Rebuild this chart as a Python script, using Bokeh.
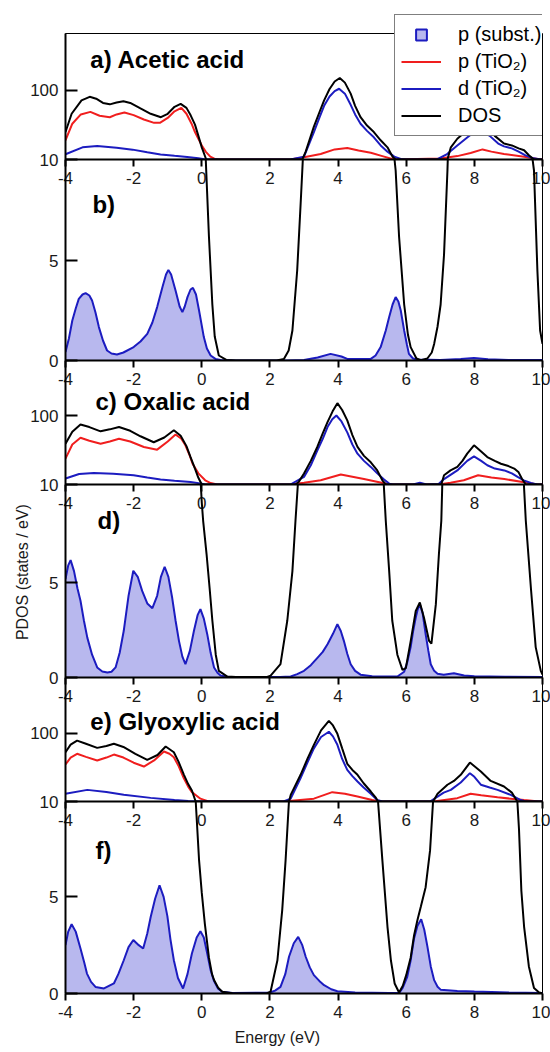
import numpy as np
from bokeh.plotting import figure
from bokeh.layouts import column
from bokeh.models import FixedTicker, PrintfTickFormatter, Legend, LegendItem, Label
from bokeh.embed import file_html
from bokeh.resources import INLINE

# ---------------- data (energy eV, value) ----------------
X_TICKS = [-4, -2, 0, 2, 4, 6, 8, 10]
LOG_TICKS = [10, 100]
LIN_TICKS = [0, 5]

# Acetic acid
ac_dos = [(-4.0,25),(-3.82,46),(-3.53,72),(-3.29,81),(-3.1,76),(-2.9,66),(-2.7,63),(-2.5,67),(-2.3,70),(-2.1,66),
          (-1.8,55),(-1.5,46),(-1.2,41),(-1.0,46),(-0.8,58),(-0.62,64),(-0.45,56),(-0.33,44),(-0.2,32),(-0.1,22),
          (0.0,15),(0.13,9.5),(0.21,6.2),(0.31,2.8),(0.38,1.2),(0.5,0.25),(0.72,0.03),(1.0,0.0),(2.2,0.0),(2.41,0.08),
          (2.55,0.5),(2.66,1.5),(2.8,4.5),(2.9,7.8),(2.95,9.5),(3.05,13),(3.29,30),(3.45,48),(3.59,72),(3.75,105),
          (3.9,135),(4.05,152),(4.2,130),(4.37,90),(4.5,60),(4.66,41),(4.85,31),(5.05,25),(5.25,19),(5.45,15),
          (5.6,11),(5.69,9.5),(5.79,6.2),(5.94,2.8),(6.05,1.3),(6.13,0.67),(6.3,0.1),(6.43,0.02),(6.62,0.1),(6.75,0.4),
          (6.82,0.83),(6.92,1.7),(7.01,2.8),(7.11,5.3),(7.21,9.5),(7.31,15),(7.5,20),(7.8,27),(8.0,33),(8.2,36),
          (8.4,30),(8.6,22),(8.87,17),(9.1,16),(9.3,14.5),(9.46,13.6),(9.6,11.5),(9.75,9.5),(9.85,4.5),(9.93,1.5),(10.0,0.83)]
ac_p_tio2 = [(-4.0,19),(-3.8,33),(-3.55,45),(-3.27,49),(-3.0,43),(-2.7,41),(-2.5,45),(-2.27,48),(-2.0,44),(-1.7,38),
             (-1.4,34),(-1.23,34),(-1.0,40),(-0.8,50),(-0.6,56),(-0.45,46),(-0.3,33),(-0.2,25),(-0.1,20),(0.0,16),
             (0.12,12.9),(0.25,11),(0.37,10.3),(0.5,10),(2.6,10),(3.0,10.8),(3.49,12),(3.9,14),(4.27,14.7),(4.6,13.5),
             (4.96,12.5),(5.3,11.2),(5.64,10),(7.0,10.3),(7.5,11.2),(7.89,12.4),(8.24,14),(8.5,13),(8.87,12),(9.46,11),
             (9.95,10),(10.0,10)]
ac_d_tio2 = [(-4.0,11.9),(-3.5,15),(-3.07,15.7),(-2.5,14.8),(-2.03,13.9),(-1.6,12.7),(-1.21,11.8),(-0.8,11.3),(-0.43,10.9),
             (-0.1,10.4),(0.12,10),(2.6,10),(3.0,11),(3.29,25),(3.45,40),(3.59,60),(3.75,82),(3.9,98),(4.03,106),(4.2,90),
             (4.37,62),(4.5,45),(4.66,33),(4.85,26),(5.05,21),(5.25,16),(5.45,13),(5.65,11),(5.84,10.2),(6.0,10),(6.9,10),
             (7.2,12),(7.5,16),(7.8,21),(8.0,25),(8.2,27),(8.45,22),(8.7,17),(8.87,15.5),(9.1,14.5),(9.3,13),(9.5,11.5),
             (9.7,10.5),(9.95,10),(10.0,10)]
ac_p_sub = [(-4.0,0.42),(-3.9,1.1),(-3.8,2.0),(-3.7,2.6),(-3.61,3.08),(-3.5,3.3),(-3.41,3.37),(-3.3,3.25),(-3.22,3.0),
            (-3.12,2.4),(-3.02,1.67),(-2.9,1.0),(-2.78,0.5),(-2.65,0.35),(-2.49,0.3),(-2.3,0.4),(-2.0,0.67),(-1.8,0.95),
            (-1.6,1.33),(-1.45,1.9),(-1.31,2.67),(-1.15,3.7),(-1.05,4.3),(-0.98,4.53),(-0.9,4.3),(-0.77,3.5),(-0.65,2.7),
            (-0.57,2.42),(-0.5,2.7),(-0.42,3.17),(-0.33,3.55),(-0.26,3.63),(-0.17,3.3),(-0.08,2.5),(0.06,1.17),(0.15,0.6),
            (0.26,0.25),(0.4,0.08),(0.55,0.03),(1.0,0.0),(2.5,0.0),(3.0,0.03),(3.4,0.15),(3.78,0.33),(4.1,0.2),(4.27,0.08),
            (4.96,0.08),(5.1,0.25),(5.25,0.67),(5.4,1.5),(5.5,2.17),(5.6,2.8),(5.69,3.17),(5.77,2.95),(5.84,2.5),(5.94,1.5),
            (6.02,0.8),(6.08,0.33),(6.2,0.1),(6.33,0.05),(7.0,0.03),(7.6,0.08),(7.99,0.12),(8.4,0.06),(9.0,0.02),(10.0,0.02)]

# Oxalic acid
ox_dos = [(-4.0,39),(-3.8,58),(-3.56,74),(-3.3,68),(-2.97,59),(-2.7,63),(-2.43,68),(-2.1,60),(-1.8,50),(-1.41,41),
          (-1.1,48),(-0.82,61),(-0.62,51),(-0.45,36),(-0.33,25),(-0.2,17),(-0.1,12.5),(0.0,9.2),(0.04,8.25),(0.14,6.5),
          (0.23,4.7),(0.31,3.0),(0.41,1.2),(0.5,0.35),(0.75,0.05),(1.0,0.02),(1.9,0.02),(2.02,0.1),(2.31,0.7),(2.51,3.0),
          (2.66,5.6),(2.75,8.25),(2.85,11),(3.0,14.4),(3.2,22),(3.39,35),(3.55,55),(3.69,80),(3.84,115),(3.98,151),
          (4.12,120),(4.27,85),(4.42,52),(4.57,35),(4.76,26),(4.96,21),(5.15,16),(5.3,11.5),(5.4,8.25),(5.5,5.6),
          (5.59,3.0),(5.74,1.2),(5.89,0.4),(5.99,0.5),(6.13,1.9),(6.28,3.5),(6.4,3.95),(6.52,3.16),(6.67,1.93),(6.74,1.78),
          (6.87,3.86),(6.96,6.5),(7.03,8.25),(7.11,13.6),(7.3,16),(7.5,18),(7.65,22),(7.79,28),(7.99,37),(8.2,30),
          (8.38,25),(8.6,22),(8.78,20),(9.0,18.5),(9.17,17),(9.3,15),(9.4,12),(9.51,8.25),(9.66,4.7),(9.8,1.6),
          (9.95,0.35),(10.0,0.15)]
ox_p_tio2 = [(-4.0,23.7),(-3.8,38),(-3.56,47.6),(-3.3,43),(-2.97,39),(-2.7,42),(-2.43,46),(-2.1,42),(-1.7,35),(-1.31,32),
             (-1.0,42),(-0.77,53),(-0.6,46),(-0.48,37),(-0.35,26),(-0.27,20),(-0.1,14.5),(0.1,11.5),(0.26,10.5),(0.45,10),
             (2.6,10),(3.0,10.6),(3.49,11.5),(4.08,14),(4.76,12),(5.45,10.2),(5.6,10),(6.95,10),(7.3,10.6),(7.69,11.5),
             (8.11,13.6),(8.5,12.6),(8.88,12),(9.46,10.8),(9.85,10),(10.0,10)]
ox_d_tio2 = [(-4.0,12.2),(-3.6,14.2),(-3.17,14.7),(-2.6,14.3),(-2.0,13.6),(-1.6,12.6),(-1.21,11.8),(-0.8,11.3),(-0.33,10.9),
             (0.0,10.3),(0.1,10),(2.6,10),(3.0,12.9),(3.2,19),(3.39,31),(3.55,46),(3.69,68),(3.83,88),(3.95,100),(4.1,82),
             (4.27,57),(4.42,38),(4.57,28),(4.76,22),(4.96,18),(5.15,14.5),(5.35,11.8),(5.5,10.3),(5.6,10),(6.2,10),
             (6.4,10.6),(6.6,10),(6.95,10.2),(7.11,12),(7.3,13.8),(7.5,16),(7.79,22),(7.99,25.6),(8.2,22),(8.38,19),
             (8.6,17),(8.88,16),(9.1,14.5),(9.27,12.9),(9.45,11.5),(9.66,10.5),(9.85,10),(10.0,10)]
ox_p_sub = [(-4.0,5.18),(-3.92,5.9),(-3.85,6.18),(-3.75,5.6),(-3.65,4.7),(-3.56,4.04),(-3.46,3.0),(-3.36,2.1),(-3.22,1.2),
            (-3.07,0.53),(-2.92,0.32),(-2.77,0.26),(-2.65,0.3),(-2.53,0.53),(-2.41,1.3),(-2.29,2.46),(-2.15,4.3),(-2.01,5.62),
            (-1.88,5.3),(-1.75,4.56),(-1.6,3.9),(-1.45,3.65),(-1.31,4.3),(-1.2,5.3),(-1.09,5.83),(-0.98,5.3),(-0.87,4.21),
            (-0.77,3.0),(-0.67,1.93),(-0.57,1.1),(-0.48,0.7),(-0.35,1.4),(-0.23,2.46),(-0.12,3.3),(-0.04,3.6),(0.06,3.1),
            (0.16,2.28),(0.26,1.3),(0.36,0.53),(0.46,0.25),(0.55,0.1),(0.8,0.02),(2.3,0.02),(2.61,0.05),(2.8,0.18),(3.0,0.35),
            (3.2,0.65),(3.4,1.05),(3.55,1.35),(3.69,1.75),(3.85,2.3),(3.98,2.81),(4.08,2.45),(4.17,1.93),(4.27,1.25),(4.37,0.7),
            (4.5,0.35),(4.66,0.15),(5.0,0.07),(5.74,0.05),(5.94,0.3),(6.03,0.8),(6.13,1.6),(6.2,2.4),(6.28,3.16),(6.34,3.6),
            (6.4,3.86),(6.48,3.4),(6.57,2.28),(6.65,1.4),(6.72,0.7),(6.82,0.35),(6.92,0.2),(7.1,0.15),(7.4,0.22),(7.7,0.1),
            (8.0,0.06),(8.9,0.04),(10.0,0.03)]

# Glyoxylic acid
gl_dos = [(-4.0,52.7),(-3.85,68),(-3.66,78),(-3.4,70),(-3.07,61),(-2.8,65),(-2.58,70),(-2.3,63),(-1.95,50),(-1.6,40.7),
          (-1.3,48),(-1.06,64),(-0.82,52.7),(-0.68,38),(-0.53,25),(-0.4,18),(-0.29,14.5),(-0.18,10),(-0.08,6.9),(0.0,5.2),
          (0.09,3.6),(0.21,1.85),(0.3,1.0),(0.36,0.7),(0.48,0.3),(0.6,0.09),(0.9,0.01),(1.9,0.0),(2.02,0.1),(2.22,1.72),
          (2.36,4.3),(2.46,6.9),(2.56,10),(2.61,12.5),(2.9,24.6),(3.1,42),(3.29,67.6),(3.5,110),(3.73,152),(3.85,130),
          (3.98,98),(4.12,60),(4.27,35.7),(4.42,29),(4.57,24.6),(4.75,18.5),(4.96,14),(5.1,11.5),(5.17,10),(5.3,6.9),
          (5.45,3.45),(5.55,1.72),(5.66,0.52),(5.79,0.05),(5.9,0.4),(6.0,0.95),(6.13,1.85),(6.23,3.0),(6.33,3.8),(6.43,4.5),
          (6.57,5.5),(6.7,7.4),(6.79,10),(6.92,13),(7.21,17.6),(7.4,20),(7.6,24.6),(7.87,37.2),(8.19,27.5),(8.48,20),
          (8.87,16.6),(9.1,13.5),(9.26,10),(9.31,8.5),(9.38,5.3),(9.46,3.45),(9.6,1.4),(9.75,0.28),(9.9,0.05),(10.0,0.02)]
gl_p_tio2 = [(-4.0,34.8),(-3.85,44),(-3.66,50),(-3.4,45),(-3.07,39.8),(-2.8,44),(-2.58,48.7),(-2.3,44),(-2.0,37),(-1.7,32.5),
             (-1.4,40),(-1.11,54),(-0.95,50),(-0.82,44.5),(-0.68,33),(-0.53,22),(-0.4,16.5),(-0.29,13.7),(-0.04,11),(0.2,10),
             (2.4,10),(3.29,11),(3.83,13.7),(4.2,13),(4.57,11.8),(5.0,10.5),(5.2,10),(6.8,10),(7.5,11.2),(7.89,13),
             (8.2,12.3),(8.68,11.5),(9.46,10.5),(9.9,10),(10.0,10)]
gl_d_tio2 = [(-4.0,13),(-3.36,14.8),(-2.8,13.8),(-2.29,12.6),(-1.5,11.3),(-0.8,10.5),(-0.4,10.2),(0.0,10),(2.4,10),(2.61,11),
             (2.9,22),(3.1,37),(3.29,60),(3.5,88),(3.73,105),(3.85,90),(3.98,67.6),(4.12,42),(4.27,29),(4.42,23.5),
             (4.57,19.6),(4.75,16),(4.96,13),(5.15,10.5),(5.3,10),(6.7,10),(6.92,11.8),(7.1,13.5),(7.31,14.8),(7.6,19),
             (7.87,26),(8.0,23),(8.19,17.6),(8.45,16),(8.68,14.8),(9.07,12.5),(9.36,10.5),(9.5,10),(10.0,10)]
gl_p_sub = [(-4.0,2.5),(-3.92,3.2),(-3.82,3.58),(-3.7,3.2),(-3.56,2.33),(-3.45,1.6),(-3.37,1.03),(-3.25,0.6),(-3.12,0.34),
            (-2.87,0.26),(-2.58,0.52),(-2.45,1.0),(-2.29,1.72),(-2.15,2.4),(-2.01,2.77),(-1.85,2.5),(-1.72,2.33),(-1.6,3.1),
            (-1.5,3.96),(-1.37,4.9),(-1.24,5.6),(-1.12,5.0),(-1.01,4.0),(-0.92,2.8),(-0.82,1.72),(-0.7,0.8),(-0.55,0.26),
            (-0.42,1.0),(-0.29,2.07),(-0.15,2.9),(-0.04,3.22),(0.06,2.9),(0.16,2.07),(0.26,1.2),(0.36,0.64),(0.48,0.25),
            (0.6,0.09),(0.9,0.02),(2.0,0.05),(2.15,0.15),(2.31,0.34),(2.45,1.0),(2.56,1.9),(2.7,2.6),(2.83,2.93),(2.95,2.5),
            (3.05,1.9),(3.17,1.35),(3.29,0.95),(3.45,0.65),(3.59,0.43),(3.8,0.22),(3.98,0.12),(4.5,0.05),(5.5,0.03),
            (5.79,0.02),(5.9,0.3),(6.03,0.86),(6.13,1.7),(6.23,2.85),(6.33,3.5),(6.44,3.84),(6.53,3.3),(6.62,2.45),(6.72,1.4),
            (6.82,0.69),(6.92,0.35),(7.01,0.2),(7.5,0.13),(8.0,0.1),(9.0,0.05),(10.0,0.03)]

TITLES_LOG = ["a) Acetic acid", "c) Oxalic acid", "e) Glyoxylic acid"]
TITLES_LIN = ["b)", "d)", "f)"]
LEGEND_LABELS = ["p (subst.)", "p (TiO\u2082)", "d (TiO\u2082)", "DOS"]
X_LABEL = "Energy (eV)"
Y_LABEL = "PDOS (states / eV)"

# ---------------- styling ----------------
FONT = "Liberation Sans"
TXT = "#1a1a1a"
RED = "#f01e1e"
BLUE = "#1c1cc0"
FILL = "#b8b8ee"
W, LEFT, RIGHT, OVER = 550, 65, 8, 40
TOP_A = 33
NB = "\u00a0"


def split(pts):
    x, y = zip(*pts)
    return np.array(x, float), np.array(y, float)


def make_fig(log, frame_h, top, bottom, y_end, first=False):
    kw = dict(width=W, height=top + frame_h + bottom, x_range=(-4, 10),
              output_backend="svg", toolbar_location=None, title=None,
              min_border_left=LEFT, min_border_right=RIGHT,
              min_border_top=top, min_border_bottom=bottom,
              background_fill_color=None, border_fill_color=None,
              outline_line_color="black", outline_line_width=1)
    if log:
        p = figure(y_axis_type="log", y_range=(10, y_end), **kw)
    else:
        p = figure(y_range=(0, y_end), **kw)
    if not first:
        p.styles = {"margin-top": f"-{OVER}px"}
    p.grid.visible = False
    xa = p.xaxis[0]
    xa.ticker = FixedTicker(ticks=X_TICKS)
    xa.formatter = PrintfTickFormatter(format="%d")
    xa.axis_line_width = 2
    xa.major_tick_line_width = 2
    xa.major_tick_out = 7
    xa.major_tick_in = 0
    xa.minor_tick_line_color = None
    xa.major_label_standoff = 5
    xa.major_label_text_font = FONT
    xa.major_label_text_font_size = "17px"
    xa.major_label_text_color = TXT
    ya = p.yaxis[0]
    ya.ticker = FixedTicker(ticks=LOG_TICKS if log else LIN_TICKS)
    ya.formatter = PrintfTickFormatter(format="%d")
    ya.axis_line_width = 2
    ya.major_tick_line_width = 2
    ya.major_tick_in = 12
    ya.major_tick_out = 0
    ya.minor_tick_line_color = None
    ya.major_label_standoff = 7
    ya.major_label_text_font = FONT
    ya.major_label_text_font_size = "17px"
    ya.major_label_text_color = TXT
    return p


def log_panel(p, dos, pt, dt):
    x, y = split(pt)
    p.line(x, np.clip(y, 10, None), line_color=RED, line_width=2)
    x, y = split(dt)
    p.line(x, np.clip(y, 10, None), line_color=BLUE, line_width=2)
    x, y = split(dos)
    p.line(x, np.clip(y, 10, None), line_color="black", line_width=2)


def lin_panel(p, dos, sub):
    x, y = split(sub)
    p.varea(x=x, y1=0, y2=y, fill_color=FILL, fill_alpha=1.0)
    p.line(x, y, line_color=BLUE, line_width=2)
    x, y = split(dos)
    p.line(x, y, line_color="black", line_width=2)


def title(p, text, x, y):
    p.add_layout(Label(x=x, y=y, text=text, text_font=FONT, text_font_size="24px",
                       text_font_style="bold", text_color="black", text_baseline="middle"))


def legend_fig(height, top_offset, next_top):
    lf = figure(width=W, height=height, x_range=(0, 1), y_range=(0, 1),
                output_backend="svg", toolbar_location=None, title=None,
                x_axis_location=None, y_axis_location=None,
                min_border_left=LEFT, min_border_right=RIGHT, min_border_top=0, min_border_bottom=0,
                background_fill_color=None, border_fill_color=None, outline_line_color=None)
    lf.grid.visible = False
    # legend proxies: a single NaN point, so nothing is drawn in the frame
    nan = np.array([np.nan])
    r_sub = lf.scatter(x=nan, y=nan, marker="square", size=12, fill_color=FILL,
                       line_color=BLUE, line_width=2)
    r_red = lf.line(x=nan, y=nan, line_color=RED, line_width=2)
    r_blue = lf.line(x=nan, y=nan, line_color=BLUE, line_width=2)
    r_dos = lf.line(x=nan, y=nan, line_color="black", line_width=2)
    leg = Legend(items=[LegendItem(label=LEGEND_LABELS[0], renderers=[r_sub]),
                        LegendItem(label=LEGEND_LABELS[1], renderers=[r_red]),
                        LegendItem(label=LEGEND_LABELS[2], renderers=[r_blue]),
                        LegendItem(label=LEGEND_LABELS[3], renderers=[r_dos])],
                 location=(394 - LEFT, height - 136), orientation="vertical",
                 glyph_width=40, glyph_height=27, label_height=20, spacing=0,
                 padding=6, margin=0, label_standoff=17, label_width=110,
                 label_text_font=FONT, label_text_font_size="20px",
                 label_text_color="black",
                 border_line_color="black", border_line_width=1.5,
                 background_fill_color="white", background_fill_alpha=1.0)
    lf.add_layout(leg)
    # pull the legend figure up over panel a without changing the flow of the panels below
    lf.styles = {"margin-top": f"-{top_offset}px",
                 "margin-bottom": f"{next_top + OVER - height}px"}
    return lf


systems = [(ac_dos, ac_p_tio2, ac_d_tio2, ac_p_sub),
           (ox_dos, ox_p_tio2, ox_d_tio2, ox_p_sub),
           (gl_dos, gl_p_tio2, gl_d_tio2, gl_p_sub)]

log_frames = [126, 124, 124]
log_ends = [670, 627, 655]
lin_frames = [201, 193, 192]
lin_ends = [10.05, 10.16, 9.93]
log_title_pos = [(-3.27, 277), (-3.12, 157), (-3.27, 151)]
lin_title_pos = [(-3.21, 7.8), (-3.06, 8.29), (-3.12, 7.4)]

figs = []
for i, (dos, pt, dt, sub) in enumerate(systems):
    pl = make_fig(True, log_frames[i], TOP_A if i == 0 else 0, OVER, log_ends[i], first=(i == 0))
    log_panel(pl, dos, pt, dt)
    title(pl, TITLES_LOG[i], *log_title_pos[i])
    figs.append(pl)
    if i == 0:
        a_height = TOP_A + log_frames[0] + OVER
        figs.append(legend_fig(150, a_height, TOP_A + log_frames[0]))

    last = (i == 2)
    pn = make_fig(False, lin_frames[i], 0, 58 if last else OVER, lin_ends[i])
    lin_panel(pn, dos, sub)
    title(pn, TITLES_LIN[i], *lin_title_pos[i])
    if i == 1:
        ya = pn.yaxis[0]
        ya.axis_label = NB * 4 + Y_LABEL
        ya.axis_label_standoff = 15
        ya.axis_label_text_font = FONT
        ya.axis_label_text_font_size = "16px"
        ya.axis_label_text_font_style = "normal"
        ya.axis_label_text_color = TXT
    if last:
        xa = pn.xaxis[0]
        xa.axis_label = X_LABEL + NB * 12
        xa.axis_label_standoff = 8
        xa.axis_label_text_font = FONT
        xa.axis_label_text_font_size = "16px"
        xa.axis_label_text_font_style = "normal"
        xa.axis_label_text_color = TXT
    figs.append(pn)

layout = column(*figs, spacing=0)
open("out.html", "w").write(file_html(layout, INLINE))
